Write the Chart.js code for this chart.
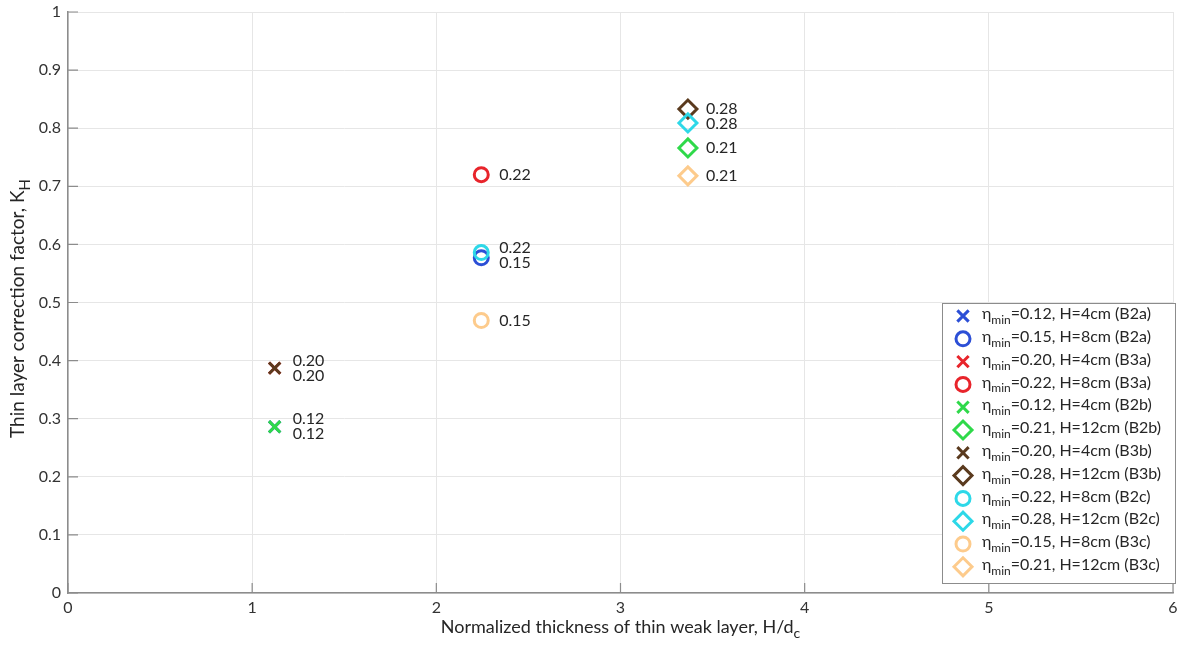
<!DOCTYPE html>
<html>
<head>
<meta charset="utf-8">
<script src="https://cdn.jsdelivr.net/npm/chart.js@4.4.0/dist/chart.umd.min.js"></script>
<style>
html, body { margin: 0; padding: 0; background: #fff; }
#wrap { width: 1185px; height: 649px; }
</style>
</head>
<body>
<div id="wrap"><canvas id="khChart"></canvas></div>
<script>
// normalized thickness H/dc for H = 4, 8, 12 cm
var hOverDc = [1.122, 2.244, 3.366];

// one entry per plotted point (legend order)
var etaMin    = ['0.12', '0.15', '0.20', '0.22', '0.12', '0.21', '0.20', '0.28', '0.22', '0.28', '0.15', '0.21'];
var thickness = ['4cm', '8cm', '4cm', '8cm', '4cm', '12cm', '4cm', '12cm', '8cm', '12cm', '8cm', '12cm'];
var hIndex    = [0, 1, 0, 1, 0, 2, 0, 2, 1, 2, 1, 2];
var testName  = ['B2a', 'B2a', 'B3a', 'B3a', 'B2b', 'B2b', 'B3b', 'B3b', 'B2c', 'B2c', 'B3c', 'B3c'];
var kH        = [0.286, 0.577, 0.387, 0.720, 0.286, 0.766, 0.387, 0.833, 0.586, 0.809, 0.469, 0.718];

var xTicks = [0, 1, 2, 3, 4, 5, 6];
var yTicks = [0, 0.1, 0.2, 0.3, 0.4, 0.5, 0.6, 0.7, 0.8, 0.9, 1];

var testColors = {
  B2a: '#2c4fd6', B3a: '#e8242b', B2b: '#2fd94a',
  B3b: '#5a3a1e', B2c: '#2dd8e8', B3c: '#fdcb8c'
};
var markerFor = { '4cm': 'crossRot', '8cm': 'circle', '12cm': 'rectRot' };
var radiusFor = { '4cm': 8, '8cm': 7, '12cm': 9 };

var FONT = 'Lato, "Open Sans", sans-serif';

var datasets = kH.map(function (v, i) {
  var col = testColors[testName[i]];
  return {
    label: 'eta_min=' + etaMin[i] + ', H=' + thickness[i] + ' (' + testName[i] + ')',
    data: [{ x: hOverDc[hIndex[i]], y: v }],
    pointStyle: markerFor[thickness[i]],
    pointRadius: radiusFor[thickness[i]],
    pointHoverRadius: radiusFor[thickness[i]],
    pointBorderWidth: 3,
    pointHoverBorderWidth: 3,
    borderColor: col,
    pointBorderColor: col,
    backgroundColor: 'rgba(0,0,0,0)',
    pointBackgroundColor: 'rgba(0,0,0,0)',
    showLine: false,
    order: -i  // later series drawn on top, like matlab
  };
});

// text with a subscript part, drawn left to right
function subText(ctx, parts, x, y, size) {
  parts.forEach(function (p) {
    if (p.sub) {
      ctx.font = Math.round(size * 0.78) + 'px ' + FONT;
      ctx.fillText(p.t, x, y + size * 0.38);
    } else {
      ctx.font = size + 'px ' + FONT;
      ctx.fillText(p.t, x, y);
    }
    x += ctx.measureText(p.t).width;
  });
  return x;
}
function subWidth(ctx, parts, size) {
  var w = 0;
  parts.forEach(function (p) {
    ctx.font = (p.sub ? Math.round(size * 0.78) : size) + 'px ' + FONT;
    w += ctx.measureText(p.t).width;
  });
  return w;
}

const extras = {
  id: 'extras',
  afterDraw: function (chart) {
    const ctx = chart.ctx;
    const xs = chart.scales.x, ys = chart.scales.y;
    const area = chart.chartArea;
    ctx.save();

    // inward tick marks
    ctx.strokeStyle = '#8c8c8c';
    ctx.lineWidth = 1.2;
    ctx.beginPath();
    xTicks.forEach(function (t) {
      var px = xs.getPixelForValue(t);
      ctx.moveTo(px, area.bottom);
      ctx.lineTo(px, area.bottom - 10);
    });
    yTicks.forEach(function (t) {
      var py = ys.getPixelForValue(t);
      ctx.moveTo(area.left, py);
      ctx.lineTo(area.left + 10, py);
    });
    ctx.stroke();

    // value labels next to points, pushed apart when they collide
    var labels = [];
    chart.data.datasets.forEach(function (ds, i) {
      var pt = chart.getDatasetMeta(i).data[0];
      labels.push({ x: pt.x + 18, y: pt.y, t: etaMin[i] });
    });
    var groups = {};
    labels.forEach(function (l) {
      var k = Math.round(l.x);
      (groups[k] = groups[k] || []).push(l);
    });
    var gap = 15;
    Object.keys(groups).forEach(function (k) {
      var g = groups[k].sort(function (a, b) { return a.y - b.y; });
      var clusters = [];
      g.forEach(function (l) {
        var c = clusters[clusters.length - 1];
        if (c && l.y - c[c.length - 1].y < gap) c.push(l); else clusters.push([l]);
      });
      clusters.forEach(function (c) {
        if (c.length < 2) return;
        var mean = c.reduce(function (s, l) { return s + l.y; }, 0) / c.length;
        c.forEach(function (l, j) { l.y = mean + (j - (c.length - 1) / 2) * gap; });
      });
    });
    ctx.fillStyle = '#262626';
    ctx.font = '16px ' + FONT;
    ctx.textBaseline = 'middle';
    ctx.textAlign = 'left';
    labels.forEach(function (l) { ctx.fillText(l.t, l.x, l.y); });

    // axis titles
    ctx.fillStyle = '#262626';
    ctx.textBaseline = 'middle';
    var xt = [{ t: 'Normalized thickness of thin weak layer, H/d' }, { t: 'c', sub: true }];
    var w = subWidth(ctx, xt, 18);
    subText(ctx, xt, (area.left + area.right) / 2 - w / 2, 627, 18);
    var yt = [{ t: 'Thin layer correction factor, K' }, { t: 'H', sub: true }];
    w = subWidth(ctx, yt, 19);
    ctx.save();
    ctx.translate(18, (area.top + area.bottom) / 2 + 6);
    ctx.rotate(-Math.PI / 2);
    subText(ctx, yt, -w / 2, 0, 19);
    ctx.restore();

    // legend box
    var lx = 942, ly = 303, lw = 233, lh = 280, rowH = 22.8;
    ctx.fillStyle = '#ffffff';
    ctx.fillRect(lx, ly, lw, lh);
    ctx.strokeStyle = '#8c8c8c';
    ctx.lineWidth = 1;
    ctx.strokeRect(lx + 0.5, ly + 0.5, lw, lh);
    chart.data.datasets.forEach(function (ds, i) {
      var cy = ly + 13 + i * rowH;
      ctx.strokeStyle = ds.borderColor;
      ctx.fillStyle = 'rgba(0,0,0,0)';
      ctx.lineWidth = 3;
      Chart.helpers.drawPoint(ctx, {
        pointStyle: ds.pointStyle,
        radius: ds.pointRadius,
        rotation: 0,
        borderWidth: 3
      }, lx + 21, cy);
      ctx.fillStyle = '#262626';
      ctx.textBaseline = 'middle';
      subText(ctx, [
        { t: '\u03b7' }, { t: 'min', sub: true },
        { t: '=' + etaMin[i] + ', H=' + thickness[i] + ' (' + testName[i] + ')' }
      ], lx + 40, cy - 2, 16);
    });
    ctx.restore();
  }
};

new Chart(document.getElementById('khChart'), {
  type: 'scatter',
  data: { datasets: datasets },
  options: {
    responsive: true,
    maintainAspectRatio: false,
    animation: false,
    layout: { padding: { top: 11, right: 10, left: 0, bottom: 0 } },
    plugins: {
      legend: { display: false },
      tooltip: { enabled: false }
    },
    scales: {
      x: {
        type: 'linear',
        min: 0, max: 6,
        afterBuildTicks: function (s) { s.ticks = xTicks.map(function (v) { return { value: v }; }); },
        afterFit: function (s) { s.height = 56; s.paddingRight = 0; s.paddingLeft = 0; },
        grid: { color: '#e6e6e6', drawTicks: false },
        border: { color: '#8c8c8c', width: 1.5 },
        ticks: { color: '#333', font: { family: FONT, size: 16 }, padding: 5,
                 callback: function (v) { return String(v); } }
      },
      y: {
        type: 'linear',
        min: 0, max: 1,
        afterBuildTicks: function (s) { s.ticks = yTicks.map(function (v) { return { value: v }; }); },
        afterFit: function (s) { s.width = 68; s.paddingTop = 0; s.paddingBottom = 0; },
        grid: { color: '#e6e6e6', drawTicks: false },
        border: { color: '#8c8c8c', width: 1.5 },
        ticks: { color: '#333', font: { family: FONT, size: 16 }, padding: 7,
                 callback: function (v) { return String(v); } }
      }
    }
  },
  plugins: [extras]
});
</script>
</body>
</html>
